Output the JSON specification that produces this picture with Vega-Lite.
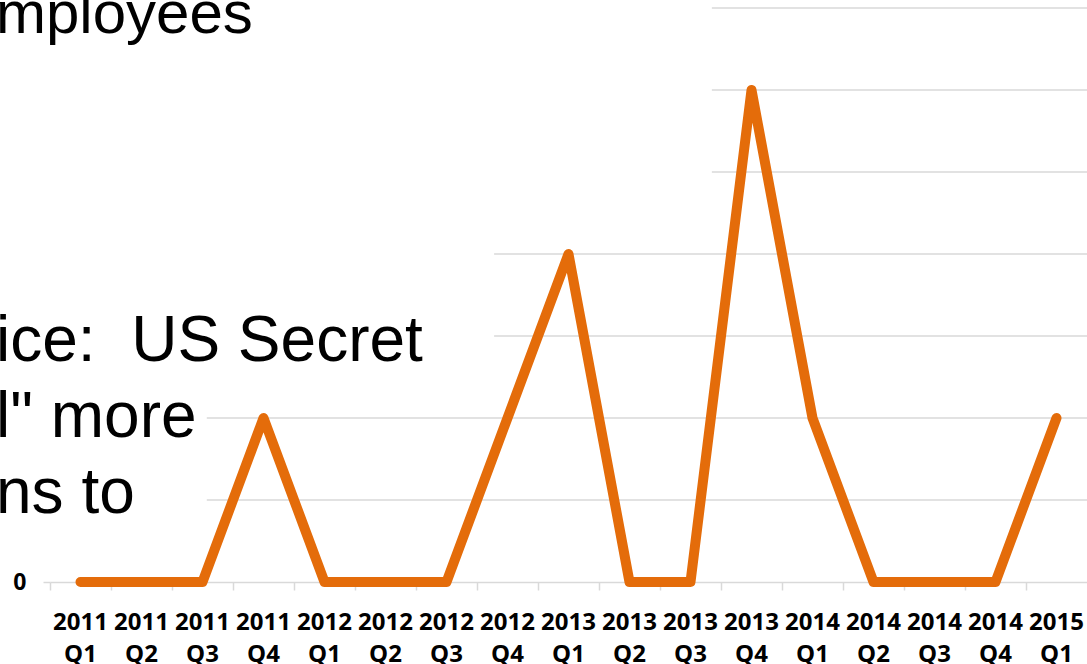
{
  "$schema": "https://vega.github.io/schema/vega-lite/v6.json",
  "autosize": "none",
  "width": 1037,
  "height": 574,
  "padding": {"left": 50, "top": 8, "right": 0, "bottom": 82},
  "background": "white",
  "title": {
    "text": "mployees",
    "subtitle": ["ice: \u00a0US Secret", "l\" more", "ns to"],
    "anchor": "start",
    "frame": "group",
    "orient": "top",
    "dx": -54,
    "offset": -520,
    "font": "Liberation Sans",
    "fontSize": 60,
    "fontWeight": "normal",
    "color": "#000000",
    "subtitleFont": "Liberation Sans",
    "subtitleFontSize": 64,
    "subtitleFontWeight": "normal",
    "subtitleColor": "#000000",
    "subtitleLineHeight": 76,
    "subtitlePadding": 264
  },
  "datasets": {
    "series": [
      {"quarter": "2011 Q1", "count": 0},
      {"quarter": "2011 Q2", "count": 0},
      {"quarter": "2011 Q3", "count": 0},
      {"quarter": "2011 Q4", "count": 2},
      {"quarter": "2012 Q1", "count": 0},
      {"quarter": "2012 Q2", "count": 0},
      {"quarter": "2012 Q3", "count": 0},
      {"quarter": "2012 Q4", "count": 2},
      {"quarter": "2013 Q1", "count": 4},
      {"quarter": "2013 Q2", "count": 0},
      {"quarter": "2013 Q3", "count": 0},
      {"quarter": "2013 Q4", "count": 6},
      {"quarter": "2014 Q1", "count": 2},
      {"quarter": "2014 Q2", "count": 0},
      {"quarter": "2014 Q3", "count": 0},
      {"quarter": "2014 Q4", "count": 0},
      {"quarter": "2015 Q1", "count": 2}
    ],
    "grid": [
      {"level": 1, "from": "2011 Q3"},
      {"level": 2, "from": "2011 Q3"},
      {"level": 3, "from": "2012 Q4"},
      {"level": 4, "from": "2012 Q4"},
      {"level": 5, "from": "2013 Q3"},
      {"level": 6, "from": "2013 Q3"},
      {"level": 7, "from": "2013 Q3"}
    ]
  },
  "config": {
    "view": {"stroke": null},
    "axis": {"grid": false}
  },
  "resolve": {"axis": {"x": "independent"}},
  "layer": [
    {
      "data": {"name": "grid"},
      "transform": [{"filter": "datum.level <= 2"}],
      "mark": {"type": "rule", "color": "#D9D9D9", "strokeWidth": 1.5},
      "encoding": {
        "x": {
          "field": "from",
          "type": "ordinal",
          "bandPosition": 0.57,
          "axis": {
            "orient": "bottom",
            "title": null,
            "labelAngle": 0,
            "labelExpr": "split(datum.value, ' ')[1]",
            "labelFont": "Open Sans",
            "labelFontWeight": "bold",
            "labelFontSize": 24,
            "labelColor": "#000000",
            "labelPadding": 60,
            "labelOverlap": false,
            "labelFlush": false,
            "labelBound": false,
            "ticks": false,
            "tickSize": 0,
            "domain": false
          }
        },
        "x2": {"value": "width"},
        "y": {"field": "level", "type": "quantitative"}
      }
    },
    {
      "data": {"name": "grid"},
      "transform": [{"filter": "datum.level == 3 || datum.level == 4"}],
      "mark": {"type": "rule", "color": "#D9D9D9", "strokeWidth": 1.5},
      "encoding": {
        "x": {"field": "from", "type": "ordinal", "bandPosition": 0.28, "axis": null},
        "x2": {"value": "width"},
        "y": {"field": "level", "type": "quantitative"}
      }
    },
    {
      "data": {"name": "grid"},
      "transform": [{"filter": "datum.level >= 5"}],
      "mark": {"type": "rule", "color": "#D9D9D9", "strokeWidth": 1.5},
      "encoding": {
        "x": {"field": "from", "type": "ordinal", "bandPosition": 0.85, "axis": null},
        "x2": {"value": "width"},
        "y": {"field": "level", "type": "quantitative"}
      }
    },
    {
      "data": {"name": "series"},
      "mark": {"type": "line", "color": "#E46C0A", "strokeWidth": 10, "strokeCap": "round", "strokeJoin": "round"},
      "encoding": {
        "x": {
          "field": "quarter",
          "type": "ordinal",
          "sort": null,
          "bandPosition": 0.5,
          "scale": {
            "type": "band",
            "paddingInner": 0,
            "paddingOuter": 0,
            "domain": ["2011 Q1", "2011 Q2", "2011 Q3", "2011 Q4", "2012 Q1", "2012 Q2", "2012 Q3", "2012 Q4", "2013 Q1", "2013 Q2", "2013 Q3", "2013 Q4", "2014 Q1", "2014 Q2", "2014 Q3", "2014 Q4", "2015 Q1"]
          },
          "axis": {
            "orient": "bottom",
            "title": null,
            "bandPosition": 0,
            "labelAngle": 0,
            "labelExpr": "split(datum.value, ' ')[0]",
            "labelFont": "Open Sans",
            "labelFontWeight": "bold",
            "labelFontSize": 24,
            "labelColor": "#000000",
            "labelPadding": 20,
            "labelOverlap": false,
            "labelFlush": false,
            "labelBound": false,
            "tickSize": 8,
            "tickColor": "#D9D9D9",
            "tickWidth": 1.5,
            "domainColor": "#D9D9D9",
            "domainWidth": 1.5
          }
        },
        "y": {
          "field": "count",
          "type": "quantitative",
          "scale": {"domain": [0, 7], "nice": false, "zero": true},
          "axis": {
            "title": null,
            "values": [0],
            "format": "d",
            "domain": false,
            "tickSize": 7,
            "tickColor": "#D9D9D9",
            "tickWidth": 1.5,
            "labelFont": "Open Sans",
            "labelFontWeight": "bold",
            "labelFontSize": 23,
            "labelColor": "#000000",
            "labelPadding": 17
          }
        }
      }
    }
  ]
}
